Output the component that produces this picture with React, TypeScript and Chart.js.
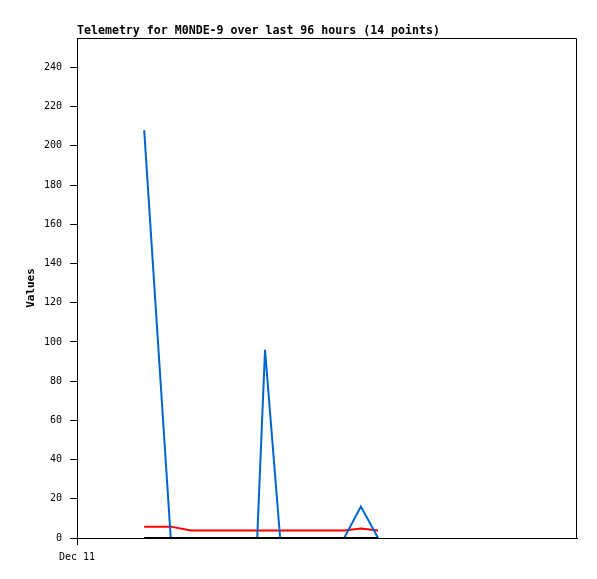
import React, { useEffect, useRef } from "react";
import { Chart, registerables } from "chart.js";

Chart.register(...registerables);

// hours since Dec 11 00:00
const hours = [12.9, 18.0, 21.9, 25.5, 29.4, 34.6, 36.1, 39.0, 42.8, 46.7, 49.5, 51.3, 54.5, 57.8];
const blueValues = [208, 0, 0, 0, 0, 0, 96, 0, 0, 0, 0, 0, 16, 0];
const redValues = [5.8, 5.8, 3.8, 3.8, 3.8, 3.8, 3.8, 3.8, 3.8, 3.8, 3.8, 3.8, 4.8, 3.8];
const blackValues = [0, 0, 0, 0, 0, 0, 0, 0, 0, 0, 0, 0, 0, 0];
const xTickValues = [0];
const xTickLabels = ["Dec 11"];
const titleText = "Telemetry for M0NDE-9 over last 96 hours (14 points)";
const yTitle = "Values";

const MONO = "'DejaVu Sans Mono', 'Liberation Mono', monospace";

const boxPlugin = {
  id: "boxPlugin",
  afterDraw(chart: any) {
    const { ctx, chartArea } = chart;
    const l = Math.round(chartArea.left);
    const t = Math.round(chartArea.top) + 0.5;
    const r = Math.round(chartArea.right) - 0.5;
    const b = Math.round(chartArea.bottom);
    ctx.save();
    ctx.strokeStyle = "#000";
    ctx.lineWidth = 1;
    ctx.beginPath();
    ctx.moveTo(l, t);
    ctx.lineTo(r, t);
    ctx.lineTo(r, b);
    ctx.stroke();
    ctx.restore();
  },
};

export default function App() {
  const ref = useRef<HTMLCanvasElement>(null);
  useEffect(() => {
    if (!ref.current) return;
    const mk = (vals: number[]) => vals.map((v, i) => ({ x: hours[i], y: v }));
    const chart = new Chart(ref.current, {
      type: "line",
      data: {
        datasets: [
          { label: "black", data: mk(blackValues), borderColor: "#000000", borderWidth: 2, pointRadius: 0, order: 0, tension: 0 },
          { label: "blue", data: mk(blueValues), borderColor: "#0066cc", borderWidth: 2, pointRadius: 0, order: 1, tension: 0 },
          { label: "red", data: mk(redValues), borderColor: "#ff0000", borderWidth: 2, pointRadius: 0, order: 2, tension: 0 },
        ],
      },
      options: {
        responsive: false,
        animation: false,
        devicePixelRatio: 1,
        layout: { padding: { left: 0, right: 20, top: 0, bottom: 0 } },
        plugins: {
          legend: { display: false },
          tooltip: { enabled: false },
          title: {
            display: true,
            text: titleText,
            align: "start",
            fullSize: false,
            color: "#000",
            font: { family: MONO, size: 11.6, weight: "bold", lineHeight: 1.2 },
            padding: { top: 24, bottom: 0.08 },
          },
        },
        scales: {
          x: {
            type: "linear",
            min: 0,
            max: 96,
            afterFit: (s: any) => { s.height = 41; },
            afterBuildTicks: (s: any) => { s.ticks = xTickValues.map((v) => ({ value: v })); },
            ticks: {
              autoSkip: false,
              maxRotation: 0,
              padding: 6,
              color: "#000",
              font: { family: MONO, size: 10 },
              callback: (v: any) => {
                const i = xTickValues.indexOf(Number(v));
                return i >= 0 ? xTickLabels[i] : "";
              },
            },
            grid: { display: true, drawOnChartArea: false, drawTicks: true, tickLength: 7, color: "#000", tickColor: "#000" },
            border: { display: true, color: "#000", width: 1 },
          },
          y: {
            type: "linear",
            min: 0,
            max: 255,
            afterFit: (s: any) => { s.width = 77; },
            ticks: {
              stepSize: 20,
              includeBounds: false,
              padding: 8,
              color: "#000",
              font: { family: MONO, size: 10 },
            },
            title: {
              display: true,
              text: yTitle,
              color: "#000",
              font: { family: MONO, size: 11, weight: "bold", lineHeight: 1.2 },
              padding: { top: 25, bottom: 0 },
            },
            grid: { display: true, drawOnChartArea: false, drawTicks: true, tickLength: 7, color: "#000", tickColor: "#000" },
            border: { display: true, color: "#000", width: 1 },
          },
        },
      },
      plugins: [boxPlugin],
    });
    return () => chart.destroy();
  }, []);
  return (
    <div style={{ position: "fixed", left: 0, top: 0, width: 597, height: 579, background: "#fff" }}>
      <canvas ref={ref} width={597} height={579} style={{ width: 597, height: 579, display: "block" }} />
    </div>
  );
}
